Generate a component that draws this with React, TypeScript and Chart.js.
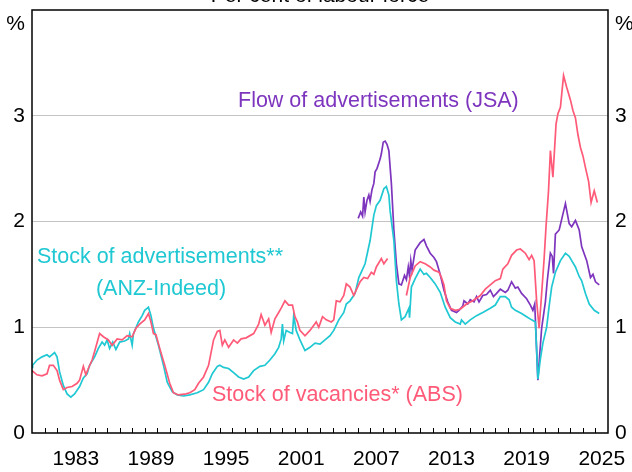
import React, { useEffect, useRef } from "react";
import { Chart, registerables } from "chart.js";

Chart.register(...registerables);

// Stock of vacancies* (ABS), per cent of labour force
const vacancyYears = [
  1980.0, 1980.4, 1980.8, 1981.2, 1981.4, 1981.7, 1982.0, 1982.2, 1982.5, 1982.8,
  1983.2, 1983.6, 1983.8, 1984.1, 1984.3, 1984.5, 1984.8, 1985.0, 1985.4, 1985.7,
  1986.1, 1986.4, 1986.8, 1987.2, 1987.6, 1988.0, 1988.3, 1988.6, 1989.0, 1989.3,
  1989.5, 1989.7, 1989.9, 1990.2, 1990.6, 1991.0, 1991.3, 1991.7, 1992.3, 1992.6,
  1993.0, 1993.3, 1993.7, 1994.1, 1994.5, 1994.8, 1995.0, 1995.2, 1995.4, 1995.7,
  1996.1, 1996.4, 1996.7, 1997.1, 1997.7, 1998.1, 1998.3, 1998.6, 1998.9, 1999.1,
  1999.4, 1999.7, 1999.9, 2000.2, 2000.5, 2000.8, 2001.0, 2001.2, 2001.4, 2001.8,
  2002.2, 2002.7, 2002.9, 2003.2, 2003.5, 2003.9, 2004.1, 2004.3, 2004.6, 2004.9,
  2005.1, 2005.4, 2005.7, 2006.0, 2006.2, 2006.5, 2006.8, 2007.1, 2007.3, 2007.5,
  2007.9, 2008.1, 2008.4, 2009.0, 2009.9, 2010.2, 2010.6, 2011.0, 2011.4, 2011.8,
  2012.1, 2012.5, 2012.7, 2012.9, 2013.1, 2013.4, 2013.8, 2014.2, 2014.7, 2015.2,
  2015.8, 2016.2, 2016.6, 2017.0, 2017.4, 2017.6, 2018.0, 2018.3, 2018.7, 2019.0,
  2019.4, 2019.7, 2019.9, 2020.1, 2020.3, 2020.5, 2020.75, 2020.9, 2021.05, 2021.25,
  2021.4, 2021.6, 2021.85, 2022.0, 2022.2, 2022.45, 2022.7, 2023.0, 2023.2, 2023.4,
  2023.6, 2023.8, 2024.0, 2024.2, 2024.45, 2024.65, 2024.9, 2025.15,
];
const vacancyValues = [
  0.59, 0.55, 0.54, 0.56, 0.64, 0.64, 0.59, 0.50, 0.41, 0.43,
  0.44, 0.47, 0.50, 0.63, 0.55, 0.61, 0.69, 0.77, 0.94, 0.91,
  0.88, 0.83, 0.89, 0.88, 0.92, 0.91, 0.99, 1.03, 1.07, 1.13,
  1.05, 0.94, 0.93, 0.80, 0.64, 0.47, 0.38, 0.36, 0.37, 0.38,
  0.41, 0.47, 0.53, 0.64, 0.88, 0.96, 0.97, 0.83, 0.88, 0.81,
  0.88, 0.85, 0.89, 0.90, 0.94, 1.03, 1.12, 1.02, 1.08, 0.95,
  1.08, 1.14, 1.18, 1.25, 1.21, 1.21, 1.10, 1.05, 0.97, 0.92,
  0.97, 1.05, 1.00, 1.10, 1.07, 1.05, 1.07, 1.25, 1.24, 1.30,
  1.41, 1.38, 1.30, 1.38, 1.43, 1.47, 1.46, 1.52, 1.50, 1.57,
  1.65, 1.60, 1.65, null, 1.30, 1.47, 1.58, 1.62, 1.60, 1.57,
  1.54, 1.52, 1.47, 1.40, 1.25, 1.18, 1.16, 1.17, 1.22, 1.25,
  1.30, 1.36, 1.40, 1.44, 1.46, 1.55, 1.60, 1.68, 1.73, 1.74,
  1.70, 1.64, 1.68, 1.63, 1.25, 0.99, 1.40, 1.65, 1.95, 2.29,
  2.67, 2.42, 2.92, 3.02, 3.08, 3.38, 3.27, 3.15, 3.05, 2.98,
  2.82, 2.70, 2.62, 2.51, 2.38, 2.18, 2.29, 2.18,
];

// Stock of advertisements** (ANZ-Indeed)
const anzYears = [
  1980.0, 1980.05, 1980.4, 1980.8, 1981.2, 1981.4, 1981.8, 1982.0, 1982.2, 1982.5,
  1982.8, 1983.1, 1983.4, 1983.8, 1984.1, 1984.4, 1984.6, 1985.0, 1985.3, 1985.6,
  1985.8, 1986.0, 1986.2, 1986.45, 1986.7, 1987.0, 1987.4, 1987.7, 1987.8, 1988.0,
  1988.1, 1988.5, 1988.8, 1989.0, 1989.3, 1989.5, 1989.7, 1990.1, 1990.5, 1990.8,
  1991.2, 1991.6, 1992.1, 1992.6, 1993.2, 1993.7, 1994.1, 1994.4, 1994.8, 1995.0,
  1995.3, 1995.7, 1996.1, 1996.5, 1996.9, 1997.3, 1997.7, 1998.2, 1998.6, 1999.0,
  1999.4, 1999.7, 1999.9, 2000.0, 2000.1, 2000.3, 2000.6, 2000.8, 2000.9, 2001.1,
  2001.4, 2001.8, 2002.2, 2002.6, 2003.0, 2003.4, 2003.8, 2004.1, 2004.5, 2004.9,
  2005.1, 2005.4, 2005.8, 2006.1, 2006.6, 2007.0, 2007.3, 2007.5, 2007.8, 2008.1,
  2008.3, 2008.5, 2008.6, 2008.9, 2009.1, 2009.3, 2009.5, 2009.8, 2010.1, 2010.15,
  2010.3, 2010.6, 2011.0, 2011.3, 2011.5, 2011.8, 2012.2, 2012.6, 2013.0, 2013.4,
  2013.8, 2014.2, 2014.3, 2014.6, 2015.0, 2015.5, 2016.0, 2016.6, 2017.0, 2017.4,
  2017.8, 2018.1, 2018.3, 2018.6, 2019.1, 2019.5, 2019.9, 2020.2, 2020.4, 2020.6,
  2020.8, 2021.1, 2021.3, 2021.5, 2021.8, 2022.2, 2022.6, 2022.9, 2023.1, 2023.4,
  2023.7, 2023.9, 2024.2, 2024.5, 2024.9, 2025.3,
];
const anzValues = [
  0.62, 0.64, 0.69, 0.72, 0.74, 0.72, 0.76, 0.72, 0.58, 0.45,
  0.37, 0.34, 0.37, 0.44, 0.52, 0.56, 0.64, 0.72, 0.80, 0.86,
  0.83, 0.88, 0.80, 0.86, 0.79, 0.86, 0.87, 0.89, 0.94, 0.83,
  0.94, 1.05, 1.11, 1.16, 1.19, 1.11, 0.99, 0.83, 0.64, 0.48,
  0.39, 0.36, 0.35, 0.36, 0.38, 0.41, 0.48, 0.56, 0.63, 0.64,
  0.62, 0.61, 0.57, 0.53, 0.51, 0.53, 0.59, 0.63, 0.64, 0.69,
  0.75, 0.81, 0.89, 1.03, 0.87, 0.97, 0.95, 0.94, 1.11, 0.97,
  0.88, 0.78, 0.81, 0.85, 0.84, 0.88, 0.92, 0.97, 1.07, 1.14,
  1.22, 1.25, 1.32, 1.47, 1.60, 1.82, 2.06, 2.15, 2.20, 2.31,
  2.33, 2.25, 2.10, 1.82, 1.44, 1.22, 1.07, 1.10, 1.18, 1.09,
  1.38, 1.46, 1.55, 1.50, 1.51, 1.47, 1.41, 1.33, 1.19, 1.09,
  1.05, 1.03, 1.07, 1.03, 1.07, 1.11, 1.14, 1.18, 1.21, 1.29,
  1.29, 1.26, 1.19, 1.16, 1.13, 1.10, 1.07, 1.05, 0.51, 0.70,
  0.85, 1.00, 1.20, 1.38, 1.52, 1.63, 1.70, 1.67, 1.63, 1.57,
  1.48, 1.44, 1.32, 1.22, 1.16, 1.13,
];

// Flow of advertisements (JSA)
const jsaYears = [
  2006.05, 2006.25, 2006.4, 2006.5, 2006.6, 2006.75, 2006.9, 2007.0, 2007.15, 2007.3,
  2007.4, 2007.55, 2007.8, 2007.9, 2008.05, 2008.2, 2008.35, 2008.5, 2008.7, 2008.9,
  2009.1, 2009.3, 2009.5, 2009.75, 2009.9, 2010.05, 2010.15, 2010.25, 2010.35, 2010.6,
  2011.0, 2011.3, 2011.5, 2011.8, 2012.1, 2012.3, 2012.6, 2012.9, 2013.2, 2013.5,
  2013.9, 2014.1, 2014.4, 2014.5, 2014.8, 2015.0, 2015.3, 2015.5, 2015.7, 2016.0,
  2016.3, 2016.6, 2016.85, 2017.1, 2017.4, 2017.8, 2018.0, 2018.3, 2018.6, 2018.8,
  2019.1, 2019.5, 2019.8, 2020.0, 2020.15, 2020.4, 2020.7, 2021.0, 2021.15, 2021.4,
  2021.55, 2021.65, 2021.8, 2022.1, 2022.4, 2022.6, 2022.9, 2023.1, 2023.4, 2023.7,
  2023.9, 2024.3, 2024.6, 2024.8, 2025.0, 2025.3,
];
const jsaValues = [
  2.03, 2.09, 2.05, 2.23, 2.09, 2.20, 2.25, 2.19, 2.30, 2.36,
  2.47, 2.50, 2.59, 2.64, 2.75, 2.76, 2.73, 2.67, 2.36, 1.92,
  1.60, 1.41, 1.40, 1.49, 1.45, 1.57, 1.48, 1.63, 1.54, 1.73,
  1.80, 1.83, 1.77, 1.70, 1.66, 1.62, 1.50, 1.35, 1.24, 1.16,
  1.14, 1.16, 1.20, 1.25, 1.22, 1.26, 1.24, 1.29, 1.24, 1.30,
  1.31, 1.35, 1.29, 1.32, 1.36, 1.33, 1.35, 1.43, 1.37, 1.38,
  1.32, 1.27, 1.21, 1.16, 1.22, 0.50, 0.99, 1.24, 1.44, 1.70,
  1.67, 1.51, 1.88, 1.92, 2.07, 2.17, 1.98, 1.95, 2.01, 1.92,
  1.76, 1.63, 1.47, 1.50, 1.43, 1.40,
];

const xLabelYears = [1983, 1989, 1995, 2001, 2007, 2013, 2019, 2025];
const xMin = 1980;
const xMax = 2026;
const yMin = 0;
const yMax = 4;

const PINK = "#ff5a78";
const CYAN = "#1fc8d2";
const PURPLE = "#7e35be";
const FONT = "Arial, 'Liberation Sans', sans-serif";

const toPoints = (xs: number[], ys: (number | null)[]) =>
  xs.map((x, i) => ({ x, y: ys[i] }));

const zeroPad = (scale: any) => {
  scale.paddingLeft = 0;
  scale.paddingRight = 0;
  scale.paddingTop = 0;
  scale.paddingBottom = 0;
};

const decorPlugin = {
  id: "decor",
  afterDraw(chart: any) {
    const { ctx, chartArea } = chart;
    const xs = chart.scales.x;
    const { left, right, top, bottom } = chartArea;
    ctx.save();
    // minor year ticks (inside, from the bottom axis)
    ctx.strokeStyle = "#000";
    ctx.lineWidth = 1;
    for (let yr = xMin + 1; yr < xMax; yr++) {
      const px = Math.round(xs.getPixelForValue(yr)) + 0.5;
      ctx.beginPath();
      ctx.moveTo(px, bottom);
      ctx.lineTo(px, bottom - 5);
      ctx.stroke();
    }
    // frame
    ctx.lineWidth = 1.5;
    ctx.strokeRect(left, top, right - left, bottom - top);

    ctx.font = `21px ${FONT}`;
    ctx.textBaseline = "alphabetic";
    // title (mostly cut off at top)
    ctx.fillStyle = "#000";
    ctx.textAlign = "center";
    ctx.fillText("Per cent of labour force", (left + right) / 2, 2);
    // % unit labels
    ctx.textAlign = "right";
    ctx.fillText("%", left - 7, top + 20);
    ctx.textAlign = "left";
    ctx.fillText("%", right + 7, top + 20);

    // series annotations
    ctx.font = `21.5px ${FONT}`;
    ctx.fillStyle = PURPLE;
    ctx.textAlign = "left";
    ctx.fillText("Flow of advertisements (JSA)", 238, 107);
    ctx.fillStyle = CYAN;
    ctx.textAlign = "center";
    ctx.fillText("Stock of advertisements**", 160, 263);
    ctx.fillText("(ANZ-Indeed)", 161, 295);
    ctx.fillStyle = PINK;
    ctx.textAlign = "left";
    ctx.fillText("Stock of vacancies* (ABS)", 212, 401);
    ctx.restore();
  },
};

export default function App() {
  const ref = useRef<HTMLCanvasElement | null>(null);

  useEffect(() => {
    document.body.style.margin = "0";
    const canvas = ref.current;
    if (!canvas) return;
    const lineDs = (label: string, data: any[], color: string) => ({
      label,
      data,
      borderColor: color,
      backgroundColor: color,
      borderWidth: 1.7,
      pointRadius: 0,
      tension: 0,
      spanGaps: false,
      fill: false,
    });
    const chart = new Chart(canvas, {
      type: "line",
      data: {
        datasets: [
          lineDs("Stock of vacancies* (ABS)", toPoints(vacancyYears, vacancyValues), PINK),
          lineDs("Stock of advertisements** (ANZ-Indeed)", toPoints(anzYears, anzValues), CYAN),
          lineDs("Flow of advertisements (JSA)", toPoints(jsaYears, jsaValues), PURPLE),
        ],
      },
      options: {
        animation: false,
        responsive: false,
        maintainAspectRatio: false,
        layout: { padding: { top: 10, left: 0, right: 0, bottom: 0 } },
        plugins: { legend: { display: false }, tooltip: { enabled: false } },
        scales: {
          x: {
            type: "linear",
            min: xMin,
            max: xMax,
            afterBuildTicks: (scale: any) => {
              scale.ticks = xLabelYears.map((y) => ({ value: y + 0.5 }));
            },
            afterFit: (scale: any) => {
              scale.height = 39;
              zeroPad(scale);
            },
            ticks: {
              autoSkip: false,
              maxRotation: 0,
              padding: 14,
              color: "#000",
              font: { family: FONT, size: 21 },
              callback: (v: any) => String(Math.floor(Number(v))),
            },
            grid: { display: false, drawTicks: false },
            border: { display: false },
          },
          y: {
            position: "left",
            min: yMin,
            max: yMax,
            afterFit: (scale: any) => {
              scale.width = 32;
              zeroPad(scale);
            },
            ticks: {
              stepSize: 1,
              padding: 7,
              color: "#000",
              font: { family: FONT, size: 21 },
              callback: (v: any) => (Number(v) === yMax ? "" : String(v)),
            },
            grid: {
              drawTicks: false,
              color: (c: any) =>
                c.tick && (c.tick.value === yMin || c.tick.value === yMax)
                  ? "rgba(0,0,0,0)"
                  : "#c4c4c4",
              lineWidth: 1,
            },
            border: { display: false },
          },
          y2: {
            position: "right",
            min: yMin,
            max: yMax,
            afterFit: (scale: any) => {
              scale.width = 24;
              zeroPad(scale);
            },
            ticks: {
              stepSize: 1,
              padding: 7,
              color: "#000",
              font: { family: FONT, size: 21 },
              callback: (v: any) => (Number(v) === yMax ? "" : String(v)),
            },
            grid: { display: false, drawTicks: false },
            border: { display: false },
          },
        },
      },
      plugins: [decorPlugin],
    } as any);
    return () => chart.destroy();
  }, []);

  return (
    <div style={{ width: 632, height: 472 }}>
      <canvas ref={ref} width={632} height={472} style={{ display: "block" }} />
    </div>
  );
}
